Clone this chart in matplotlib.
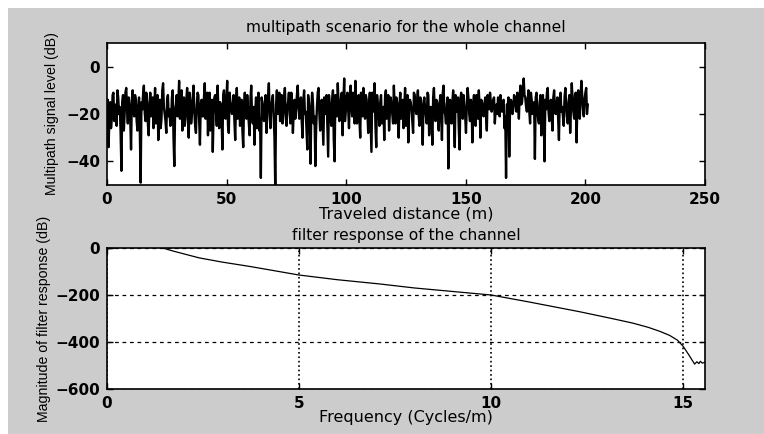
import numpy as np
import matplotlib
matplotlib.use("Agg")
import matplotlib.pyplot as plt
from matplotlib.patches import Rectangle

# multipath signal level along the track (dB), samples every 0.67 m
signal_db = [
    -18, -34, -15, -22, -11, -19, -25, -13, -17, -44, -12, -20, -9, -24, -16, -35, -10, -21, -14, -27,
    -13, -49, -18, -8, -23, -15, -29, -11, -19, -26, -9, -17, -31, -14, -22, -7, -20, -28, -12, -18,
    -24, -10, -42, -16, -21, -6, -19, -27, -13, -22, -9, -30, -15, -20, -8, -25, -17, -12, -33, -14,
    -21, -7, -18, -29, -11, -24, -36, -13, -19, -8, -26, -16, -35, -10, -22, -6, -28, -15, -20, -12,
    -31, -9, -19, -25, -14, -34, -11, -22, -18, -29, -8, -24, -33, -13, -20, -27, -47, -16, -23, -12,
    -18, -7, -26, -14, -21, -52, -10, -17, -23, -12, -19, -9, -25, -15, -20, -11, -28, -14, -18, -8,
    -22, -13, -30, -10, -19, -35, -15, -41, -11, -24, -42, -17, -9, -27, -14, -33, -20, -12, -38, -16,
    -25, -10, -40, -18, -7, -23, -13, -29, -5, -19, -11, -26, -8, -21, -15, -6, -24, -12, -30, -17,
    -9, -22, -14, -28, -11, -36, -19, -7, -34, -16, -25, -12, -21, -31, -10, -18, -27, -13, -20, -8,
    -24, -15, -30, -11, -19, -26, -9, -22, -32, -14, -18, -28, -12, -20, -10, -25, -16, -33, -13, -21,
    -11, -29, -17, -33, -9, -23, -15, -27, -12, -31, -8, -20, -16, -43, -14, -24, -10, -34, -19, -13,
    -35, -11, -22, -17, -28, -9, -20, -14, -32, -12, -25, -18, -10, -30, -15, -21, -13, -27, -16, -11,
    -19, -14, -24, -16, -13, -21, -18, -15, -26, -47, -17, -38, -14, -20, -12, -16, -11, -22, -8, -15,
    -5, -13, -19, -10, -24, -14, -17, -39, -11, -22, -15, -29, -12, -40, -18, -9, -23, -14, -27, -10,
    -20, -13, -31, -11, -17, -25, -9, -21, -15, -28, -7, -19, -12, -32, -10, -22, -6, -18, -14, -9, -16,
]
# the samples lying half way between the ones above
signal_db_mid = [
    -14, -21, -26, -12, -23, -16, -10, -20, -28, -15, -27, -11, -18, -13, -22, -14, -19, -12, -23, -17,
    -28, -15, -12, -19, -11, -24, -16, -21, -13, -18, -24, -12, -20, -26, -10, -17, -23, -14, -21, -25,
    -13, -30, -18, -12, -15, -22, -10, -18, -25, -14, -20, -11, -24, -13, -19, -28, -11, -22, -16, -21,
    -13, -22, -11, -17, -27, -14, -20, -12, -25, -18, -15, -22, -12, -19, -14, -25, -11, -18, -16, -23,
    -15, -22, -13, -20, -27, -16, -18, -12, -24, -14, -21, -17, -19, -26, -11, -22, -13, -20, -15, -28,
    -13, -21, -17, -12, -30, -16, -20, -11, -18, -24, -13, -21, -17, -11, -24, -16, -19, -22, -12, -17,
    -16, -23, -14, -20, -27, -12, -22, -18, -15, -21, -26, -11, -20, -17, -24, -13, -18, -25, -12, -22,
    -14, -31, -12, -21, -16, -19, -11, -15, -23, -13, -18, -12, -17, -11, -24, -18, -14, -22, -11, -21,
    -15, -12, -20, -16, -23, -11, -14, -25, -12, -19, -15, -24, -17, -13, -22, -12, -19, -16, -24, -17,
    -13, -20, -16, -22, -14, -17, -25, -12, -19, -15, -23, -11, -18, -14, -21, -13, -20, -15, -18, -24,
    -12, -18, -21, -13, -19, -14, -22, -16, -20, -11, -19, -24, -13, -18, -21, -15, -23, -12, -17, -26,
    -14, -19, -12, -21, -16, -13, -23, -18, -15, -20, -12, -22, -17, -14, -19, -16, -20, -12, -18, -15,
    -17, -13, -18, -20, -15, -12, -19, -14, -21, -16, -13, -17, -15, -18, -13, -19, -14, -12, -16, -10,
    -12, -17, -14, -19, -11, -20, -15, -13, -18, -24, -12, -16, -21, -14, -11, -19, -15, -22, -13, -18,
    -16, -22, -14, -19, -21, -13, -16, -24, -12, -17, -14, -22, -11, -15, -20, -13, -12, -21, -11, -20,
]

# magnitude of the channel filter response
freq = [0, 0.15, 0.3, 0.6, 1.0, 1.45, 1.7, 2.0, 2.4, 3.0, 3.7, 4.3, 5.0, 6.0, 7.1,
        8.0, 9.0, 10.0, 11.0, 12.3, 13.2, 13.7, 14.1, 14.4, 14.65, 14.85, 15.0,
        15.15, 15.3, 15.36, 15.41, 15.45, 15.5, 15.57]
mag_db = [-3, -2, 2, 8, 10, 0, -12, -25, -42, -60, -78, -95, -115, -135, -153,
          -170, -185, -200, -230, -271, -302, -320, -338, -355, -372, -392, -418,
          -455, -494, -484, -492, -482, -490, -486]

plt.rcParams['font.family'] = ['DejaVu Sans']
plt.rcParams['font.size'] = 10.5

W, H = 764, 434
fig = plt.figure(figsize=(W / 100, H / 100), dpi=100, facecolor='white')
fig.patches.append(Rectangle((8 / W, 0), 1, 1 - 8 / H, transform=fig.transFigure,
                             facecolor='#cccccc', edgecolor='none', zorder=-10))


def pix_axes(left, top, right, bottom):
    return fig.add_axes([left / W, 1 - bottom / H, (right - left) / W, (bottom - top) / H])


def style(ax):
    ax.tick_params(direction='in', top=True, right=True, length=4, width=1,
                   colors='black', labelsize=11, pad=5)
    for lab in ax.get_xticklabels() + ax.get_yticklabels():
        lab.set_fontweight('bold')
    for sp in ax.spines.values():
        sp.set_linewidth(1.2)


ylab_font = ['Liberation Sans', 'DejaVu Sans']

# interleave both sample sets into one trace
signal = np.empty(len(signal_db) + len(signal_db_mid))
signal[0::2] = signal_db
signal[1::2] = signal_db_mid
distance = np.linspace(0, 201, len(signal))

ax1 = pix_axes(107, 43, 705, 185)
ax1.plot(distance, signal, color='black', linewidth=1.7)
ax1.set_xlim(0, 250)
ax1.set_ylim(-50, 10)
ax1.set_xticks([0, 50, 100, 150, 200, 250])
ax1.set_yticks([-40, -20, 0])
style(ax1)
ax1.set_title('multipath scenario for the whole channel', fontsize=11.2, pad=8)
ax1.set_xlabel('Traveled distance (m)', fontsize=11.5, labelpad=0)
ax1.set_ylabel('Multipath signal level (dB)', fontsize=10.2, labelpad=5,
               family=ylab_font)

ax2 = pix_axes(107, 248, 705, 389)
ax2.plot(freq, mag_db, color='black', linewidth=0.9)
ax2.set_xlim(0, 15.57)
ax2.set_ylim(-600, 0)
ax2.set_xticks([0, 5, 10, 15])
ax2.set_yticks([-600, -400, -200, 0])
ax2.xaxis.grid(True, linestyle=':', color='black', linewidth=1.2)
ax2.yaxis.grid(True, linestyle=(0, (3, 3)), color='black', linewidth=0.9)
style(ax2)
ax2.set_title('filter response of the channel', fontsize=11.2, pad=6)
ax2.set_xlabel('Frequency (Cycles/m)', fontsize=11.5, labelpad=-1)
ax2.set_ylabel('Magnitude of filter response (dB)', fontsize=10.2, labelpad=3,
               family=ylab_font)

fig.savefig('out.png', dpi=100, facecolor=fig.get_facecolor())
